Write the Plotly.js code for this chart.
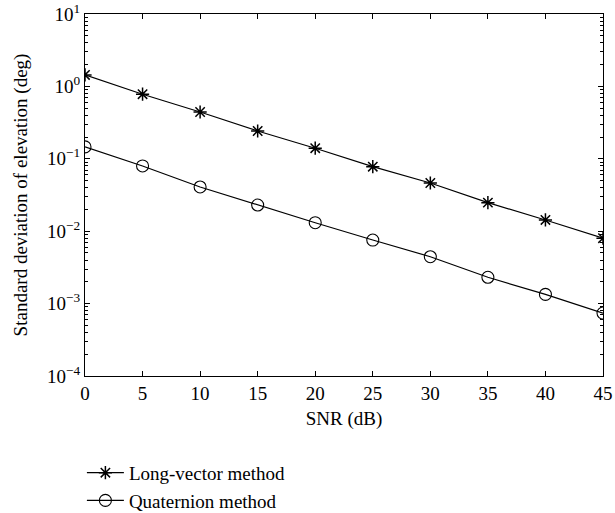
<!DOCTYPE html>
<html>
<head>
<meta charset="utf-8">
<script src="https://cdn.plot.ly/plotly-3.0.1.min.js"></script>
<style>html,body{margin:0;padding:0;background:#fff;}#chart{width:615px;height:513px;}</style>
</head>
<body>
<div id="chart"></div>
<script>
const snr = [0, 5, 10, 15, 20, 25, 30, 35, 40, 45];
const longVector = [1.44, 0.78, 0.443, 0.242, 0.14, 0.0778, 0.0463, 0.0248, 0.0143, 0.0080];
const quaternion = [0.146, 0.0796, 0.0408, 0.023, 0.0131, 0.00755, 0.00444, 0.00231, 0.00134, 0.00074];
const yTickExponents = [1, 0, -1, -2, -3, -4];
const xTicks = [0, 5, 10, 15, 20, 25, 30, 35, 40, 45];
const minorDigits = [2, 3, 4, 5, 6, 7, 8, 9];

const yTickVals = yTickExponents.map(p => Math.pow(10, p));
const yTickText = yTickExponents.map(p => '10<sup>' + (p < 0 ? '\u2212' + (-p) : p) + '</sup>');
const yMinorVals = [];
yTickExponents.filter(p => p < 1).forEach(p => minorDigits.forEach(d => yMinorVals.push(d * Math.pow(10, p))));

const fam = '"Liberation Serif", "DejaVu Serif", serif';
const font = {family: fam, color: '#000', size: 19};

const traces = [
  {x: snr, y: longVector, name: 'Long-vector method', mode: 'lines+markers',
   line: {color: '#000', width: 1.2},
   marker: {symbol: 'asterisk-open', size: 11, color: '#000', line: {color: '#000', width: 1.5}}},
  {x: snr, y: quaternion, name: 'Quaternion method', mode: 'lines+markers',
   line: {color: '#000', width: 1.2},
   marker: {symbol: 'circle-open', size: 12, color: '#000', line: {color: '#000', width: 1.1}}}
];

const layout = {
  width: 615, height: 513,
  margin: {l: 85, r: 12, t: 14, b: 137, autoexpand: false},
  paper_bgcolor: '#fff', plot_bgcolor: '#fff',
  font: font,
  showlegend: true,
  legend: {x: -0.006, xanchor: 'left', y: -0.215, yanchor: 'top', orientation: 'v',
           font: {family: fam, size: 19, color: '#000'}, bgcolor: 'rgba(0,0,0,0)',
           tracegroupgap: 0, itemwidth: 37},
  xaxis: {
    range: [0, 45], tickmode: 'array', tickvals: xTicks, ticktext: xTicks.map(String),
    ticks: 'inside', ticklen: 5, tickwidth: 1, tickcolor: '#000',
    showline: true, linecolor: '#000', linewidth: 1, mirror: 'allticks',
    showgrid: false, zeroline: false,
    title: {text: 'SNR (dB)', font: font, standoff: 8},
    tickfont: font
  },
  yaxis: {
    type: 'log', range: [-4, 1], tickmode: 'array', tickvals: yTickVals, ticktext: yTickText,
    ticks: 'inside', ticklen: 5, tickwidth: 1, tickcolor: '#000',
    minor: {tickmode: 'array', tickvals: yMinorVals, ticks: 'inside', ticklen: 3, tickcolor: '#000', tickwidth: 1, showgrid: false},
    showline: true, linecolor: '#000', linewidth: 1, mirror: 'allticks',
    showgrid: false, zeroline: false,
    title: {text: 'Standard deviation of elevation (deg)', font: font, standoff: 14},
    tickfont: font
  }
};

Plotly.newPlot('chart', traces, layout, {displayModeBar: false, staticPlot: true});
</script>
</body>
</html>
